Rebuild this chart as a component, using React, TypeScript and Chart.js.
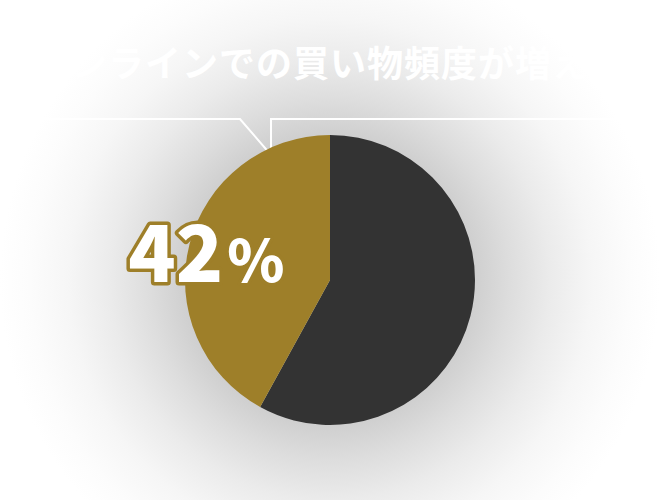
import React, { useEffect, useRef } from "react";
import { Chart, registerables } from "chart.js";

Chart.register(...registerables);

const title = "オンラインでの買い物頻度が増えた";
const categories = ["その他", "増えた"];
const values = [58, 42];
const colors = ["#333333", "#9e7f29"];
const highlightIndex = 1;

const labelPlugin = {
  id: "bigLabel",
  afterDatasetsDraw(chart: any) {
    const meta = chart.getDatasetMeta(0);
    const arc = meta.data[highlightIndex];
    if (!arc) return;
    const { x, y, startAngle, endAngle, outerRadius } = arc.getProps(
      ["x", "y", "startAngle", "endAngle", "outerRadius"],
      true
    );
    const mid = (startAngle + endAngle) / 2;
    const cx = x + Math.cos(mid) * outerRadius * 0.88;
    const cy = y + Math.sin(mid) * outerRadius * 0.88;
    const total = values.reduce((a, b) => a + b, 0);
    const num = String(Math.round((values[highlightIndex] / total) * 100));
    const ctx = chart.ctx;
    ctx.save();
    const bigFont = "900 78px 'Noto Sans CJK JP', 'Noto Sans', sans-serif";
    const smallFont = "900 58px 'Noto Sans CJK JP', 'Noto Sans', sans-serif";
    ctx.font = bigFont;
    const w1 = ctx.measureText(num).width;
    ctx.font = smallFont;
    const w2 = ctx.measureText("%").width;
    const gap = 4;
    const left = cx - (w1 + gap + w2) / 2;
    const baseline = cy + 34;
    ctx.lineJoin = "round";
    ctx.lineWidth = 7;
    ctx.strokeStyle = colors[highlightIndex];
    ctx.fillStyle = "#ffffff";
    ctx.textBaseline = "alphabetic";
    ctx.textAlign = "left";
    ctx.font = bigFont;
    ctx.strokeText(num, left, baseline);
    ctx.font = smallFont;
    ctx.strokeText("%", left + w1 + gap, baseline);
    ctx.font = bigFont;
    ctx.fillText(num, left, baseline);
    ctx.font = smallFont;
    ctx.fillText("%", left + w1 + gap, baseline);
    ctx.restore();
  },
};

export default function App() {
  const ref = useRef<HTMLCanvasElement | null>(null);

  useEffect(() => {
    if (!ref.current) return;
    const chart = new Chart(ref.current, {
      type: "pie",
      data: {
        labels: categories,
        datasets: [
          {
            data: values,
            backgroundColor: colors,
            borderWidth: 0,
          },
        ],
      },
      options: {
        responsive: false,
        animation: false,
        radius: 145,
        layout: { padding: { top: 60 } },
        plugins: {
          legend: { display: false },
          tooltip: { enabled: false },
          title: { display: false },
        },
        events: [],
      },
      plugins: [labelPlugin],
    } as any);
    return () => chart.destroy();
  }, []);

  return (
    <div
      style={{
        position: "absolute",
        left: 0,
        top: 0,
        width: 660,
        height: 500,
        overflow: "hidden",
        background:
          "radial-gradient(circle at 330px 280px, #c8c8c8 0px, #cfcfcf 145px, #dddddd 180px, #ebebeb 220px, #f6f6f6 262px, #fcfcfc 300px, #ffffff 330px)",
      }}
    >
      <div
        style={{
          position: "absolute",
          left: 0,
          top: 42,
          width: 660,
          textAlign: "center",
          color: "#ffffff",
          fontFamily: "'Noto Sans CJK JP', sans-serif",
          fontWeight: 700,
          fontSize: 36,
          lineHeight: "38px",
          letterSpacing: 1,
          whiteSpace: "nowrap",
        }}
      >
        {title}
      </div>
      <svg
        width={660}
        height={500}
        style={{ position: "absolute", left: 0, top: 0 }}
      >
        <polyline
          points="0,119 240,119 271,155 271,119 660,119"
          fill="none"
          stroke="#ffffff"
          strokeWidth={2}
        />
      </svg>
      <canvas
        ref={ref}
        width={660}
        height={500}
        style={{ position: "absolute", left: 0, top: 0 }}
      />
    </div>
  );
}
